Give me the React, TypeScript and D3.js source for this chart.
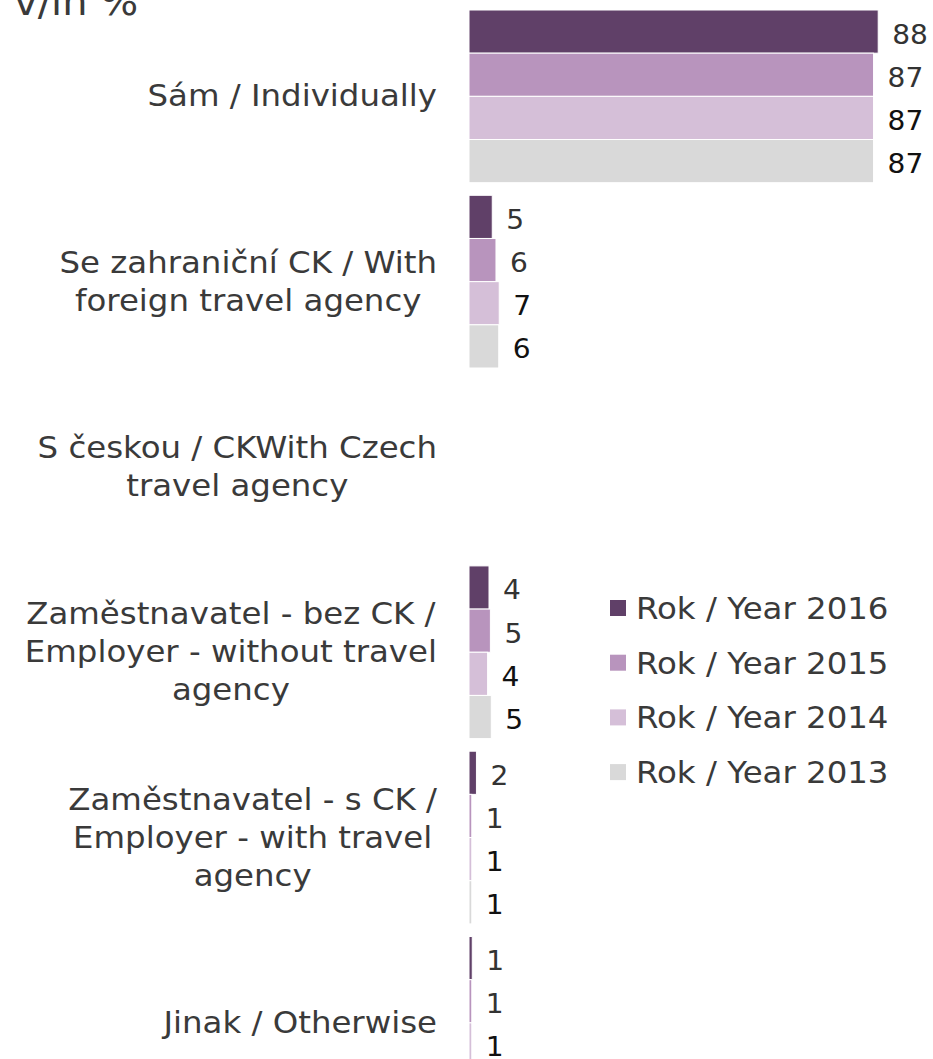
import { useEffect, useRef } from 'react';
import * as d3 from 'd3';

const categories = [
    'Sám / Individually',
    'Se zahraniční CK / With foreign travel agency',
    'S českou / CKWith Czech travel agency',
    'Zaměstnavatel - bez CK / Employer - without travel agency',
    'Zaměstnavatel - s CK / Employer - with travel agency',
    'Jinak / Otherwise',
];

const series = ['Rok / Year 2016', 'Rok / Year 2015', 'Rok / Year 2014', 'Rok / Year 2013'];

// v/in % (null = no data)
const year2016 = [88, 5.0, null, 4.3, 1.6, 0.7];
const year2015 = [87, 5.8, null, 4.6, 0.6, 0.6];
const year2014 = [87, 6.5, null, 4.0, 0.6, 0.6];
const year2013 = [87, 6.4, null, 4.8, 0.6, 0.6];

const values = [year2016, year2015, year2014, year2013];
const colors = ['#604068', '#b894bd', '#d5bfd8', '#d9d9d9'];

const App = () => {
    const ref = useRef<SVGSVGElement>(null);
    const width = 933,
        height = 1059;
    const font = 'DejaVu Sans, Verdana, sans-serif';
    const fs = 30; // category + legend font size
    const sx = 1.08; // horizontal stretch of the reference text

    useEffect(() => {
        const svg = d3.select(ref.current);
        svg.selectAll('*').remove();

        const x = d3.scaleLinear().domain([0, 100]).range([469, 934]);
        const y = d3
            .scaleBand()
            .domain(categories)
            .range([3.7, 1115.5])
            .paddingInner(0.068)
            .paddingOuter(0.034);
        const yInner = d3.scaleBand().domain(series).range([0, y.bandwidth()]);

        // title (cut off at the top like the reference)
        svg.append('g')
            .attr('transform', `translate(14,15) scale(${sx},1)`)
            .append('text')
            .attr('font-family', font)
            .attr('font-size', 37)
            .attr('fill', '#3a3a3a')
            .text('v/in %');

        // bars
        const groups = svg
            .selectAll('g.cat')
            .data(categories)
            .enter()
            .append('g')
            .attr('class', 'cat')
            .attr('transform', (d) => `translate(0,${y(d)})`);

        series.forEach((s, si) => {
            groups.each(function (cat, ci) {
                const v = values[si][ci];
                if (v == null) return;
                const g = d3.select(this);
                g.append('rect')
                    .attr('x', x(0))
                    .attr('y', yInner(s)!)
                    .attr('width', x(v) - x(0))
                    .attr('height', yInner.bandwidth())
                    .attr('fill', colors[si])
                    .attr('stroke', '#fff')
                    .attr('stroke-width', 1);
                g.append('g')
                    .attr(
                        'transform',
                        `translate(${x(v) + 14},${yInner(s)! + yInner.bandwidth() / 2 + 12}) scale(${sx},1)`
                    )
                    .append('text')
                    .attr('font-family', font)
                    .attr('font-size', 26)
                    .attr('fill', si < 2 ? '#333' : '#111')
                    .text(d3.format('.0f')(v));
            });
        });

        // category labels: wrapped, lines centred, block right-aligned
        const measure = svg
            .append('text')
            .attr('font-family', font)
            .attr('font-size', fs)
            .attr('visibility', 'hidden');
        const textWidth = (t: string) => {
            measure.text(t);
            return (measure.node() as SVGTextElement).getComputedTextLength() * sx;
        };
        const maxW = 430;
        const right = 437;
        const lineH = 38;

        categories.forEach((cat) => {
            const words = cat.split(' ');
            const lines: string[] = [];
            let cur = '';
            words.forEach((w) => {
                const test = cur ? cur + ' ' + w : w;
                if (cur && textWidth(test) > maxW) {
                    lines.push(cur);
                    cur = w;
                } else cur = test;
            });
            if (cur) lines.push(cur);
            const blockW = d3.max(lines, textWidth)!;
            const cx = right - blockW / 2;
            const yc = y(cat)! + y.bandwidth() / 2;
            lines.forEach((line, i) => {
                svg.append('g')
                    .attr(
                        'transform',
                        `translate(${cx},${yc + 10 + (i - (lines.length - 1) / 2) * lineH}) scale(${sx},1)`
                    )
                    .append('text')
                    .attr('font-family', font)
                    .attr('font-size', fs)
                    .attr('fill', '#3a3a3a')
                    .attr('text-anchor', 'middle')
                    .text(line);
            });
        });
        measure.remove();

        // legend
        const legend = svg
            .selectAll('g.legend')
            .data(series)
            .enter()
            .append('g')
            .attr('class', 'legend')
            .attr('transform', (d, i) => `translate(610,${608 + i * 54.7})`);
        legend
            .append('rect')
            .attr('x', 0)
            .attr('y', -8)
            .attr('width', 16)
            .attr('height', 16)
            .attr('fill', (d, i) => colors[i]);
        legend
            .append('g')
            .attr('transform', `translate(26,11) scale(${sx},1)`)
            .append('text')
            .attr('font-family', font)
            .attr('font-size', fs)
            .attr('fill', '#3a3a3a')
            .text((d) => d);
    }, []);

    return (
        <svg
            ref={ref}
            width={width}
            height={height}
            style={{ position: 'absolute', left: 0, top: 0, display: 'block', background: '#fff' }}
        ></svg>
    );
};

export default App;
